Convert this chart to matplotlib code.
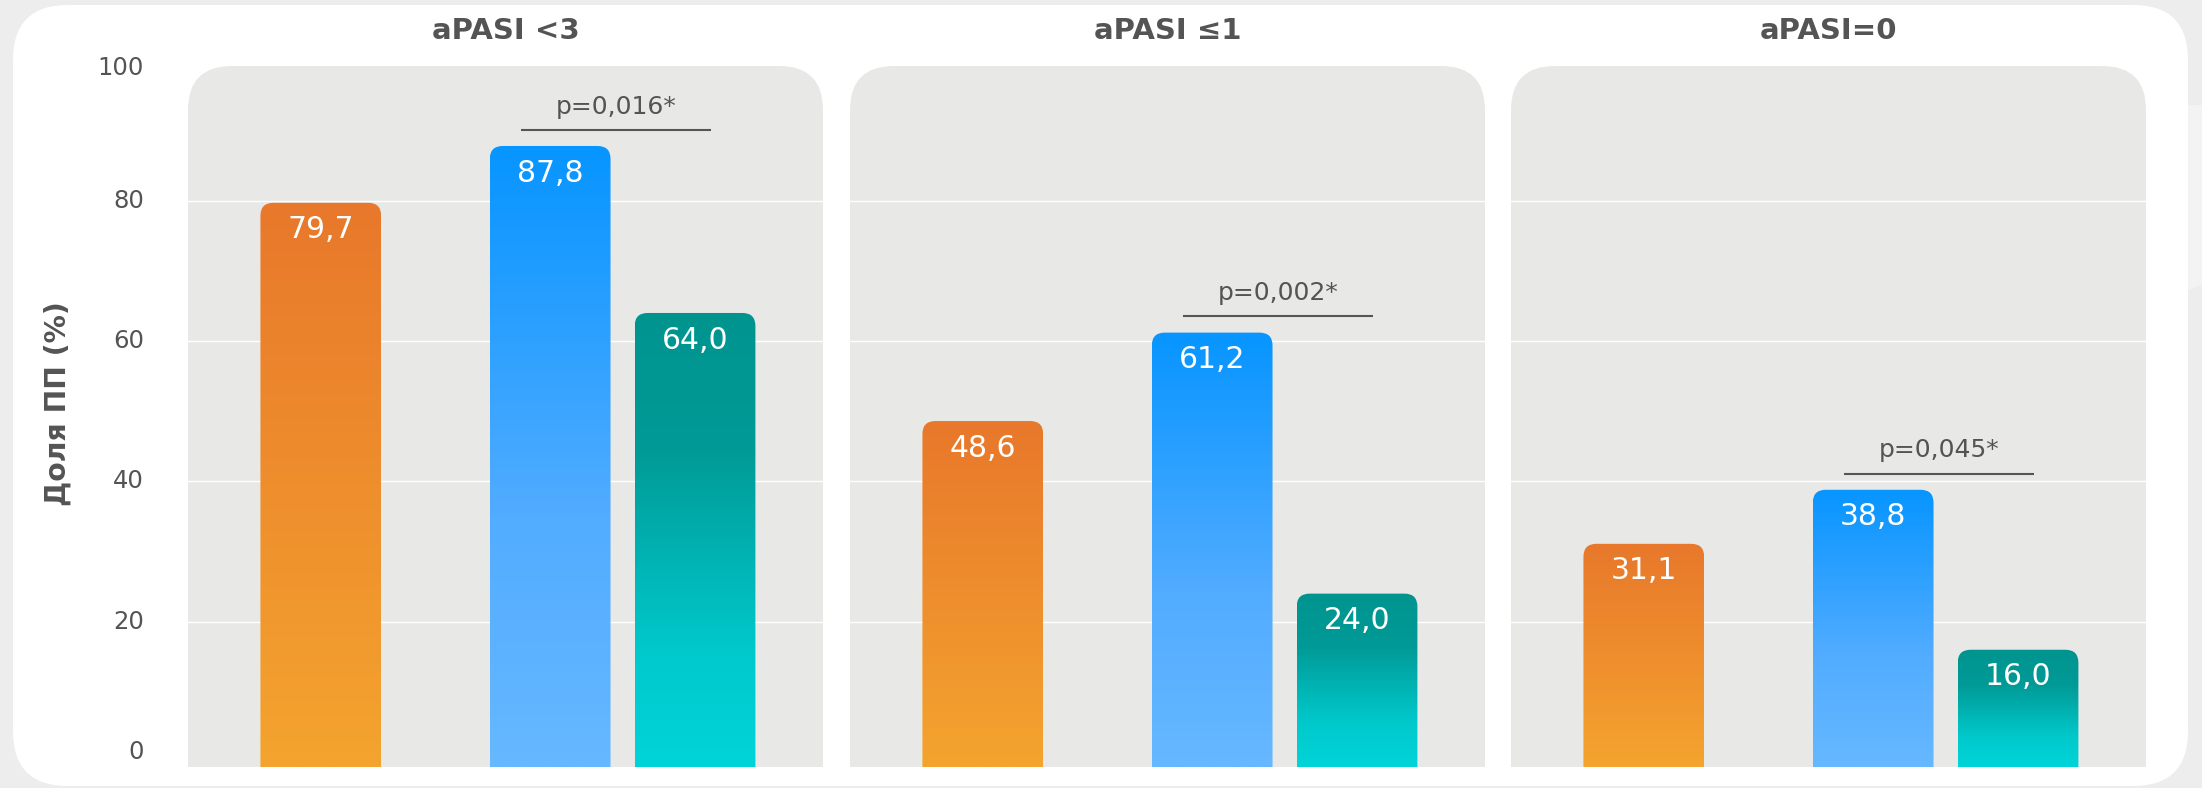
import numpy as np
import matplotlib
matplotlib.use("Agg")
import matplotlib.pyplot as plt
import matplotlib.colors as mcolors
from matplotlib.path import Path
from matplotlib.patches import PathPatch, FancyBboxPatch, Polygon
from matplotlib.transforms import blended_transform_factory

# data
panels = ["aPASI <3", "aPASI \u22641", "aPASI=0"]
orange_vals = [79.7, 48.6, 31.1]
blue_vals = [87.8, 61.2, 38.8]
teal_vals = [64.0, 24.0, 16.0]
p_labels = ["p=0,016*", "p=0,002*", "p=0,045*"]
y_ticks = [0, 20, 40, 60, 80, 100]
y_label = "Доля ПП (%)"

W, H = 2202, 788
DPI = 100
TXT = "#545454"

bar_x = [1.1, 3.0, 4.2]
bar_w = 1.0
XMAX = 5.26
YLIM = (-0.71, 99.2)

grad_stops = [
    [(0, "#E8782B"), (1, "#F4A42F")],
    [(0, "#0795FF"), (0.6, "#52ACFF"), (1, "#66B8FF")],
    [(0, "#00948F"), (0.3, "#009A96"), (0.75, "#00C9CC"), (1, "#00D4D8")],
]
cmaps = [mcolors.LinearSegmentedColormap.from_list("g%d" % i, s) for i, s in enumerate(grad_stops)]

MOVE, LINE, C3, CLOSE = Path.MOVETO, Path.LINETO, Path.CURVE3, Path.CLOSEPOLY


def top_rounded(x0, x1, y0, y1, rx, ry):
    verts = [(x0, y0), (x0, y1 - ry), (x0, y1), (x0 + rx, y1), (x1 - rx, y1),
             (x1, y1), (x1, y1 - ry), (x1, y0), (x0, y0)]
    codes = [MOVE, LINE, C3, C3, LINE, C3, C3, LINE, CLOSE]
    return Path(verts, codes)


def px(x, y):
    # figure pixel (from top-left) -> figure fraction
    return x / W, 1 - y / H


fig = plt.figure(figsize=(W / DPI, H / DPI), dpi=DPI)
fig.patch.set_facecolor("#EDEDED")

# background card
bg = fig.add_axes([0, 0, 1, 1], zorder=-5)
bg.set_xlim(0, W)
bg.set_ylim(H, 0)
bg.axis("off")
bg.add_patch(Polygon([(2180, 105), (W, 105), (W, 284), (2180, 294)], closed=True,
                     facecolor="#F3F3F3", edgecolor="none"))
bg.add_patch(FancyBboxPatch((13, 5), 2175, 781, boxstyle="round,pad=0,rounding_size=55",
                            facecolor="white", edgecolor="none"))

panel_left = [188, 850, 1511]
panel_w = 635
panel_top, panel_bot = 66, 767

for i in range(3):
    l, b = px(panel_left[i], panel_bot)
    ax = fig.add_axes([l, b, panel_w / W, (panel_bot - panel_top) / H])
    ax.set_xlim(0, XMAX)
    ax.set_ylim(*YLIM)
    ax.axis("off")

    ax.add_patch(PathPatch(top_rounded(0, 1, 0, 1, 44 / panel_w, 44 / (panel_bot - panel_top)),
                           transform=ax.transAxes, facecolor="#E8E8E6", edgecolor="none",
                           zorder=0, clip_on=False))
    for t in y_ticks[1:-1]:
        ax.axhline(t, color="white", lw=1.0, zorder=1)

    # pixel -> data scale for rounding the bar corners
    rx = 13 / (panel_w / XMAX)
    ry = 13 / ((panel_bot - panel_top) / (YLIM[1] - YLIM[0]))

    vals = [orange_vals[i], blue_vals[i], teal_vals[i]]
    for j, v in enumerate(vals):
        x0, x1 = bar_x[j] - bar_w / 2, bar_x[j] + bar_w / 2
        grad = np.linspace(0, 1, 256).reshape(-1, 1)
        im = ax.imshow(grad, cmap=cmaps[j], aspect="auto", origin="upper",
                       extent=(x0, x1, YLIM[0], v), zorder=2, interpolation="bilinear")
        clip = PathPatch(top_rounded(x0, x1, YLIM[0], v, rx, ry), transform=ax.transData,
                         facecolor="none", edgecolor="none")
        ax.add_patch(clip)
        im.set_clip_path(clip)
        ax.annotate(f"{v:.1f}".replace(".", ","), (bar_x[j], v), xytext=(0, -19.5),
                    textcoords="offset points", ha="center", va="center",
                    color="white", fontsize=21.5, zorder=3)
    ax.set_xlim(0, XMAX)
    ax.set_ylim(*YLIM)

    # significance line between the second and third bars
    ly = max(blue_vals[i], teal_vals[i]) + 2.3
    lx0, lx1 = bar_x[1] - 0.24, bar_x[2] + 0.13
    ax.plot([lx0, lx1], [ly, ly], color="#555555", lw=1.5, zorder=3, solid_capstyle="butt")
    ax.text((lx0 + lx1) / 2, ly + 3.3, p_labels[i], ha="center", va="center",
            fontsize=18, color=TXT, zorder=3)

    cx, cy = px(panel_left[i] + panel_w / 2, 31)
    fig.text(cx, cy, panels[i], ha="center", va="center", fontsize=21,
             fontweight="bold", color=TXT)

    if i == 0:
        tr = blended_transform_factory(fig.transFigure, ax.transData)
        for t in y_ticks:
            ax.text(144 / W, np.clip(t, 1.4, 98.9), str(t), transform=tr, ha="right",
                    va="center", fontsize=17.5, color=TXT, clip_on=False)

yx, yy = px(58, 404)
fig.text(yx, yy, y_label, rotation=90, ha="center", va="center", fontsize=20.3,
         fontweight="bold", color=TXT)

fig.savefig("out.png", dpi=DPI, facecolor=fig.get_facecolor())
